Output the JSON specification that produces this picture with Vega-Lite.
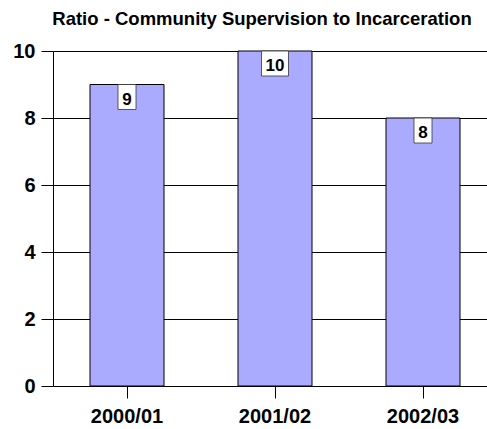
{
  "$schema": "https://vega.github.io/schema/vega-lite/v6.json",
  "autosize": {"type": "none"},
  "padding": {"left": 53, "top": 51, "right": 0, "bottom": 43},
  "width": 434,
  "height": 335,
  "background": "white",
  "title": {
    "text": "Ratio - Community Supervision to Incarceration",
    "font": "Liberation Sans",
    "fontSize": 18.5,
    "fontWeight": "bold",
    "color": "black",
    "anchor": "middle",
    "dx": -8,
    "offset": 13
  },
  "data": {
    "values": [
      {"year": "2000/01", "value": 9},
      {"year": "2001/02", "value": 10},
      {"year": "2002/03", "value": 8}
    ]
  },
  "encoding": {
    "x": {
      "field": "year",
      "type": "nominal",
      "sort": null,
      "title": null,
      "scale": {"range": [0, 444], "paddingInner": 0.5, "paddingOuter": 0.25},
      "axis": {
        "labelAngle": 0,
        "labelFont": "Liberation Sans",
        "labelFontSize": 20,
        "labelFontWeight": "bold",
        "labelColor": "black",
        "labelPadding": 8,
        "tickSize": 12,
        "tickColor": "black",
        "domainColor": "black",
        "grid": false
      }
    },
    "y": {
      "field": "value",
      "type": "quantitative",
      "title": null,
      "scale": {"domain": [0, 10], "nice": false},
      "axis": {
        "values": [0, 2, 4, 6, 8, 10],
        "labelFont": "Liberation Sans",
        "labelFontSize": 20,
        "labelFontWeight": "bold",
        "labelColor": "black",
        "labelPadding": 6,
        "tickSize": 12,
        "tickColor": "black",
        "domainColor": "black",
        "grid": true,
        "gridColor": "black",
        "gridOpacity": 1,
        "gridWidth": 1
      }
    }
  },
  "layer": [
    {
      "mark": {"type": "bar", "fill": "#AAAAFF", "stroke": "black", "strokeWidth": 1}
    },
    {
      "transform": [{"filter": "datum.value < 10"}],
      "mark": {"type": "bar", "width": 18, "fill": "white", "stroke": "#333333", "strokeWidth": 0.8, "y2Offset": 25},
      "encoding": {"y2": {"field": "value"}}
    },
    {
      "transform": [{"filter": "datum.value >= 10"}],
      "mark": {"type": "bar", "width": 27, "fill": "white", "stroke": "#333333", "strokeWidth": 0.8, "y2Offset": 25},
      "encoding": {"y2": {"field": "value"}}
    },
    {
      "mark": {"type": "text", "font": "Liberation Sans", "fontSize": 17, "fontWeight": "bold", "color": "black", "baseline": "alphabetic", "dy": 20},
      "encoding": {"text": {"field": "value", "type": "quantitative"}}
    }
  ],
  "config": {"view": {"stroke": null}}
}
